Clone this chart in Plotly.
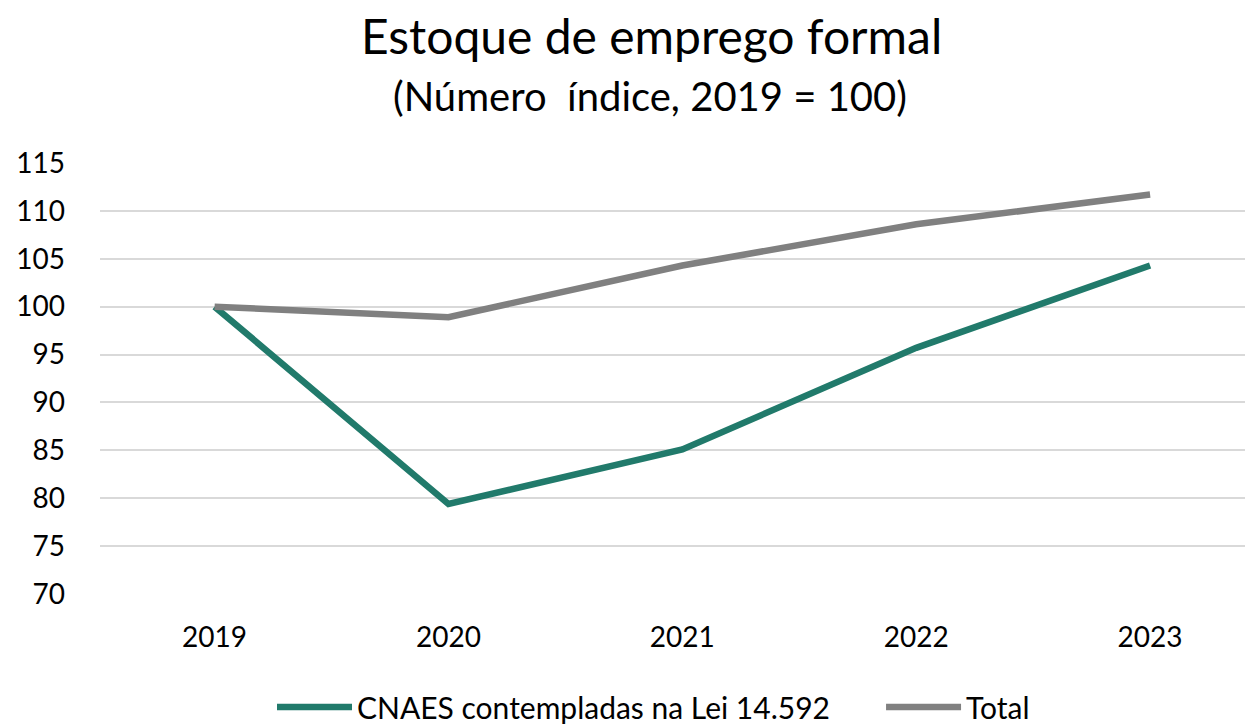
import plotly.graph_objects as go

years = ["2019", "2020", "2021", "2022", "2023"]
cnaes = [100.0, 79.4, 85.1, 95.7, 104.3]
total = [100.0, 98.9, 104.3, 108.6, 111.7]
y_ticks = [70, 75, 80, 85, 90, 95, 100, 105, 110, 115]
series_names = ["CNAES contempladas na Lei 14.592", "Total"]

FONT = "Lato"
# page body has an 8px margin; layout is expressed in screen pixels and shifted
OFF = 8
EXTRA = 30  # extra room below the visible window so the legend never pushes margins
W, H = 1253, 726 + EXTRA
L, R, T, B = 100 - OFF, OFF, 162 - OFF, 131 + OFF + EXTRA
PW = W - L - R
PH = H - T - B


def px_x(sx):
    return (sx - OFF - L) / PW


def px_y(sy):
    return (H - B - (sy - OFF)) / PH


PAD = "\u00a0" * 6  # spacing between the two legend entries

fig = go.Figure()
fig.add_trace(go.Scatter(x=years, y=cnaes, mode="lines", name=series_names[0] + PAD,
                         line=dict(color="#217A6B", width=6.5)))
fig.add_trace(go.Scatter(x=years, y=total, mode="lines", name=series_names[1],
                         line=dict(color="#808080", width=6.5)))

fig.add_annotation(text="Estoque de emprego formal", xref="paper", yref="paper",
                   x=px_x(651), y=px_y(35), xanchor="center", yanchor="middle", showarrow=False,
                   font=dict(family=FONT, size=48, color="#000000"))
fig.add_annotation(text="(Número  índice, 2019 = 100)", xref="paper", yref="paper",
                   x=px_x(650), y=px_y(96), xanchor="center", yanchor="middle", showarrow=False,
                   font=dict(family=FONT, size=40, color="#000000"))

fig.update_layout(
    width=W, height=H,
    paper_bgcolor="white", plot_bgcolor="white",
    margin=dict(l=L, r=R, t=T, b=B),
    font=dict(family=FONT, size=28, color="#000000"),
    showlegend=True,
    legend=dict(orientation="h", x=px_x(272), xanchor="left", y=px_y(707), yanchor="middle",
                font=dict(family=FONT, size=30), itemwidth=75, traceorder="normal",
                bgcolor="rgba(0,0,0,0)"),
    xaxis=dict(type="category", range=[-0.49, 4.44], showgrid=False, showline=False,
               ticks="", tickfont=dict(size=28), ticklabelstandoff=23),
    yaxis=dict(range=[69.9, 115.1], tickvals=y_ticks, showgrid=True, gridcolor="#D9D9D9",
               gridwidth=2, zeroline=False, showline=False, ticks="",
               tickfont=dict(size=28), ticklabelstandoff=34),
)

fig.write_html("out.html")
